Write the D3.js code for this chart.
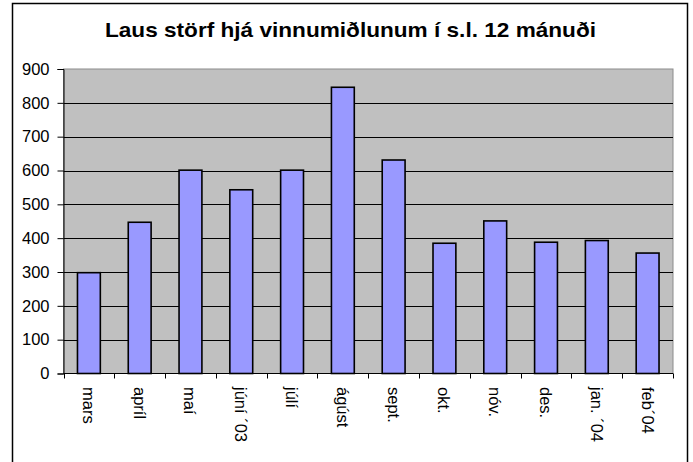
<!DOCTYPE html>
<html>
<head>
<meta charset="utf-8">
<script src="https://cdn.jsdelivr.net/npm/d3@7"></script>
<style>
  body { margin: 0; background: #fff; }
  text { font-family: "Liberation Sans", Arial, sans-serif; }
</style>
</head>
<body>
<svg id="chart"></svg>
<script>
// chart data
const months = ["mars", "apríl", "maí", "júní ´03", "júlí", "ágúst", "sept.", "okt.", "nóv.", "des.", "jan. ´04", "feb´04"];
const vacancies = [298, 447, 601, 543, 601, 846, 631, 385, 451, 388, 393, 356];
const yTicks = [0, 100, 200, 300, 400, 500, 600, 700, 800, 900];

const width = 693;
const height = 462;
const plot = { left: 63.5, right: 673, top: 69, bottom: 373.5 };

const svg = d3.select("#chart").attr("width", width).attr("height", height);

// outer chart border (bottom runs off the picture)
svg.append("rect")
  .attr("x", 12.5).attr("y", 3.5)
  .attr("width", 675).attr("height", 470)
  .attr("fill", "#fff").attr("stroke", "#000").attr("stroke-width", 1.5);

svg.append("text")
  .attr("x", 350.5).attr("y", 37)
  .attr("text-anchor", "middle")
  .attr("textLength", 491)
  .attr("lengthAdjust", "spacingAndGlyphs")
  .style("font-size", "21px").style("font-weight", "bold")
  .text("Laus störf hjá vinnumiðlunum í s.l. 12 mánuði");

const x = d3.scaleBand().domain(months).range([plot.left, plot.right]).padding(0);
const y = d3.scaleLinear().domain([0, 900]).range([plot.bottom, plot.top]);

// plot area
svg.append("rect")
  .attr("x", plot.left).attr("y", plot.top)
  .attr("width", plot.right - plot.left).attr("height", plot.bottom - plot.top)
  .attr("fill", "#c0c0c0").attr("stroke", "#8c8c8c").attr("stroke-width", 1);

// gridlines
svg.append("g")
  .selectAll("line")
  .data(yTicks.filter((d) => d > 0 && d < 900))
  .enter()
  .append("line")
  .attr("x1", plot.left).attr("x2", plot.right)
  .attr("y1", (d) => Math.round(y(d)) + 0.5).attr("y2", (d) => Math.round(y(d)) + 0.5)
  .attr("stroke", "#000").attr("stroke-width", 1);

// bars
const barW = x.bandwidth() * 0.45;
svg.append("g")
  .selectAll("rect")
  .data(vacancies)
  .enter()
  .append("rect")
  .attr("x", (d, i) => x(months[i]) + (x.bandwidth() - barW) / 2)
  .attr("y", (d) => y(d))
  .attr("width", barW)
  .attr("height", (d) => y(0) - y(d))
  .attr("fill", "#9999ff")
  .attr("stroke", "#000")
  .attr("stroke-width", 1.6);

// y axis
const yAxis = d3.axisLeft(y).tickValues(yTicks).tickSize(6).tickPadding(8);
const gy = svg.append("g").attr("transform", `translate(${plot.left},0)`).call(yAxis);
gy.select(".domain").attr("stroke", "#000");
gy.selectAll("text").style("font-size", "16.5px").attr("fill", "#000");

// x axis: ticks on category boundaries
const gx = svg.append("g");
gx.append("line")
  .attr("x1", plot.left).attr("x2", plot.right)
  .attr("y1", plot.bottom).attr("y2", plot.bottom)
  .attr("stroke", "#000");
gx.selectAll("line.tick")
  .data(months.map((m) => x(m)).concat([plot.right]))
  .enter()
  .append("line")
  .attr("class", "tick")
  .attr("x1", (d) => Math.round(d) + 0.5).attr("x2", (d) => Math.round(d) + 0.5)
  .attr("y1", plot.bottom).attr("y2", plot.bottom + 5)
  .attr("stroke", "#000");
gx.selectAll("text")
  .data(months)
  .enter()
  .append("text")
  .attr("transform", (d) => `translate(${x(d) + x.bandwidth() / 2},387) rotate(90)`)
  .attr("dominant-baseline", "central")
  .style("font-size", "16.5px")
  .text((d) => d);
</script>
</body>
</html>
